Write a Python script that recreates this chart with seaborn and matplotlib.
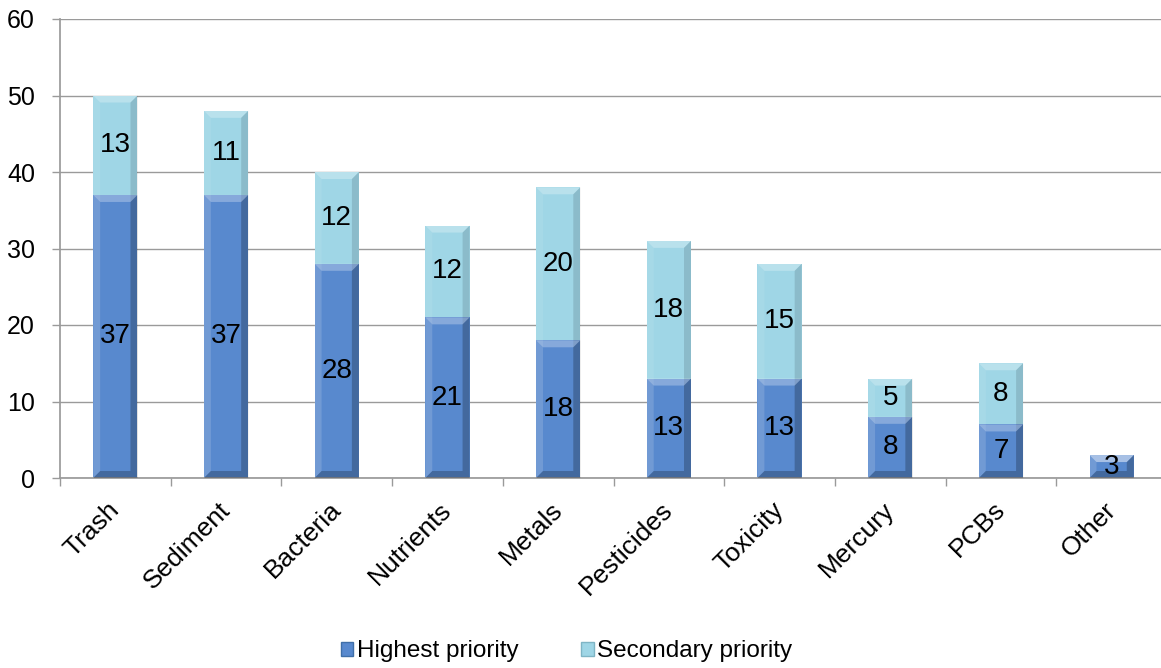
import matplotlib
matplotlib.use("Agg")
import matplotlib.pyplot as plt
import matplotlib.transforms as mtransforms
import seaborn as sns
import pandas as pd
import numpy as np
from matplotlib.patches import Polygon, Patch

categories = ["Trash", "Sediment", "Bacteria", "Nutrients", "Metals",
              "Pesticides", "Toxicity", "Mercury", "PCBs", "Other"]
highest = [37, 37, 28, 21, 18, 13, 13, 8, 7, 3]
secondary = [13, 11, 12, 12, 20, 18, 15, 5, 8, 0]

c_high = "#5889CE"
c_sec = "#9FD6E6"

sns.set_theme(style="white")
plt.rcParams['font.family'] = ['Liberation Sans', 'DejaVu Sans']

df = pd.DataFrame({"category": categories, "highest": highest,
                   "secondary": secondary})
df["total"] = df["highest"] + df["secondary"]

fig = plt.figure(figsize=(11.61, 6.68), dpi=100)
ax = fig.add_axes([60/1161, (668-478)/668, (1167-60)/1161, (478-19)/668])

sns.barplot(data=df, x="category", y="total", color=c_sec, width=0.4,
            saturation=1, ax=ax, linewidth=0)
n = len(categories)
sns.barplot(data=df, x="category", y="highest", color=c_high, width=0.4,
            saturation=1, ax=ax, linewidth=0)

ax.set_ylim(0, 60)
ax.set_xlim(-0.5, n - 0.5)
ax.set_yticks(range(0, 61, 10))
ax.set_xlabel("")
ax.set_ylabel("")
ax.yaxis.grid(True, color="#9a9a9a", linewidth=1)
ax.set_axisbelow(True)
for s in ["top", "right"]:
    ax.spines[s].set_visible(False)
ax.spines["left"].set_color("#9a9a9a")
ax.spines["bottom"].set_color("#9a9a9a")
ax.axhline(60, color="#6f8050", linewidth=1.2, zorder=0.5)

ax.tick_params(axis="y", which="both", left=True, length=6, width=1,
               color="#9a9a9a", labelsize=18, pad=12, labelcolor="black")
ax.set_xticks(np.arange(n))
ax.set_xticklabels(categories, rotation=45, ha="right",
                   rotation_mode="anchor", fontsize=19, color="black")
ax.tick_params(axis="x", which="major", length=0, pad=14, labelcolor="black")
offset = mtransforms.ScaledTranslation(-8 / 100, 0, fig.dpi_scale_trans)
for lbl in ax.get_xticklabels():
    lbl.set_transform(lbl.get_transform() + offset)
ax.set_xticks(np.arange(-0.5, n, 1.0), minor=True)
ax.tick_params(axis="x", which="minor", bottom=True, length=6, width=1,
               color="#9a9a9a")

# bevel effect derived from the drawn bars
fig.canvas.draw()
inv = ax.transData.inverted()
for p in ax.patches:
    x0, y0 = p.get_x(), p.get_y()
    w, h = p.get_width(), p.get_height()
    if h <= 0:
        continue
    (px0, py0) = ax.transData.transform((x0, y0))
    (px1, py1) = ax.transData.transform((x0 + w, y0 + h))
    b = min(7, (py1 - py0) / 2.5)
    def d(pt):
        return inv.transform(pt)
    top = [d((px0, py1)), d((px1, py1)), d((px1 - b, py1 - b)), d((px0 + b, py1 - b))]
    bot = [d((px0, py0)), d((px1, py0)), d((px1 - b, py0 + b)), d((px0 + b, py0 + b))]
    left = [d((px0, py0)), d((px0, py1)), d((px0 + b, py1 - b)), d((px0 + b, py0 + b))]
    right = [d((px1, py0)), d((px1, py1)), d((px1 - b, py1 - b)), d((px1 - b, py0 + b))]
    ax.add_patch(Polygon(top, closed=True, facecolor="white", alpha=0.28, lw=0, zorder=3))
    ax.add_patch(Polygon(left, closed=True, facecolor="white", alpha=0.08, lw=0, zorder=3))
    ax.add_patch(Polygon(right, closed=True, facecolor="black", alpha=0.12, lw=0, zorder=3))
    ax.add_patch(Polygon(bot, closed=True, facecolor="black", alpha=0.12, lw=0, zorder=3))

# data labels
for i in range(n):
    if highest[i] > 0:
        ax.text(i, highest[i] / 2, str(highest[i]), ha="center", va="center",
                fontsize=20, color="black", zorder=5)
    if secondary[i] > 0:
        ax.text(i, highest[i] + secondary[i] / 2, str(secondary[i]),
                ha="center", va="center", fontsize=20, color="black", zorder=5)

handles = [Patch(facecolor=c_high, edgecolor="#3f6fa8", label="Highest priority"),
           Patch(facecolor=c_sec, edgecolor="#7fb5c5", label="Secondary priority")]
fig.legend(handles=handles, loc="center", bbox_to_anchor=(0.488, 0.025), ncol=2,
           frameon=False, fontsize=17.5, handlelength=0.5, handleheight=0.5,
           handletextpad=0.15, columnspacing=2.6, labelcolor="black")

fig.savefig("out.png", dpi=100)
